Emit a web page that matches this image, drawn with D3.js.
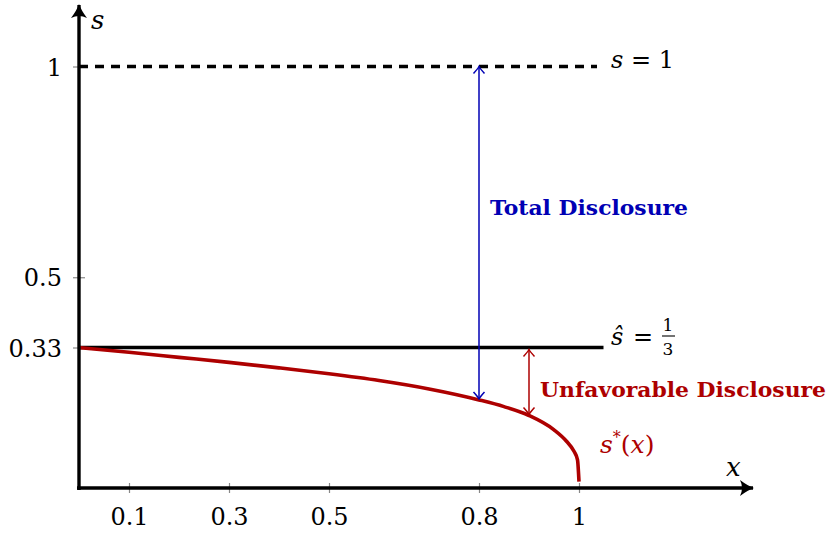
<!DOCTYPE html>
<html>
<head>
<meta charset="utf-8">
<script src="https://cdn.jsdelivr.net/npm/d3@7"></script>
<style>
  body { margin: 0; background: #fff; }
  text { font-family: "DejaVu Serif", serif; }
</style>
</head>
<body>
<div id="chart-area"></div>
<script>
// data
var curveX = [0, 0.1, 0.2, 0.3, 0.4, 0.5, 0.6, 0.7, 0.8, 0.85, 0.9, 0.95, 0.975, 0.99, 0.997, 1];
var curveS = [0.333, 0.322, 0.310, 0.298, 0.285, 0.271, 0.255, 0.235, 0.209, 0.193, 0.172, 0.138, 0.111, 0.087, 0.067, 0.015];

var xTicks = [0.1, 0.3, 0.5, 0.8, 1];
var xTickLabels = ["0.1", "0.3", "0.5", "0.8", "1"];
var yTicks = [1 / 3, 0.5, 1];
var yTickLabels = ["0.33", "0.5", "1"];

var sHat = 1 / 3;
var sTop = 1;
var totalAt = 0.8;
var unfavAt = 0.9;

var width = 829;
var height = 533;

var blue = "#0000b4";
var red = "#ad0000";

var svg = d3.select("#chart-area").append("svg")
.attr("width", width)
.attr("height", height)

var x = d3.scaleLinear()
.domain([0, 1])
.range([79, 579])

var y = d3.scaleLinear()
.domain([0, 1])
.range([488, 66.5])

var defs = svg.append("defs")

// open V heads for the annotation arrows
;[["vb", blue], ["vr", red]].forEach(function(m) {
	defs.append("marker")
	.attr("id", m[0])
	.attr("viewBox", "-10 -8 12 16")
	.attr("refX", 0)
	.attr("refY", 0)
	.attr("markerWidth", 12)
	.attr("markerHeight", 16)
	.attr("markerUnits", "userSpaceOnUse")
	.attr("orient", "auto-start-reverse")
	.append("path")
	.attr("d", "M-7,-5.5 Q-2,-1 0,0 Q-2,1 -7,5.5")
	.attr("fill", "none")
	.attr("stroke", m[1])
	.attr("stroke-width", 1.5)
})

// filled head for the axes
defs.append("marker")
.attr("id", "ax")
.attr("viewBox", "-14 -9 16 18")
.attr("refX", 0)
.attr("refY", 0)
.attr("markerWidth", 16)
.attr("markerHeight", 18)
.attr("markerUnits", "userSpaceOnUse")
.attr("orient", "auto")
.append("path")
.attr("d", "M-13,-8 Q-5,-2 1,0 Q-5,2 -13,8 Q-9,0 -13,-8 Z")
.attr("fill", "black")

// ticks
var xAxis = svg.append("g")
.attr("transform", "translate(0," + y(0) + ")")
.call(d3.axisBottom(x).tickValues(xTicks).tickFormat((d, i) => xTickLabels[i]))

var yAxis = svg.append("g")
.attr("transform", "translate(" + x(0) + ",0)")
.call(d3.axisLeft(y).tickValues(yTicks).tickFormat((d, i) => yTickLabels[i]))

xAxis.select(".domain").remove()
yAxis.select(".domain").remove()

xAxis.selectAll(".tick line")
.attr("y1", -5).attr("y2", 5)
.attr("stroke", "#888").attr("stroke-width", 1.2)
xAxis.selectAll(".tick text")
.attr("y", 37).attr("dy", 0)
.attr("font-size", "24px")
.attr("font-family", "DejaVu Serif")
.attr("fill", "black")

yAxis.selectAll(".tick text")
yAxis.selectAll(".tick line")
.attr("x1", -6).attr("x2", 6)
.attr("stroke", "#888").attr("stroke-width", 1.2)
yAxis.selectAll(".tick text")
.attr("x", -17).attr("dy", "0.36em")
.attr("font-size", "24px")
.attr("font-family", "DejaVu Serif")
.attr("fill", "black")

// reference lines
svg.append("line")
.attr("x1", x(0)).attr("x2", x(1.036))
.attr("y1", y(sTop)).attr("y2", y(sTop))
.attr("stroke", "black")
.attr("stroke-width", 3.4)
.attr("stroke-dasharray", "9,7")

svg.append("line")
.attr("x1", x(0)).attr("x2", x(1.049))
.attr("y1", y(sHat)).attr("y2", y(sHat))
.attr("stroke", "black")
.attr("stroke-width", 3.4)

// s*(x)
var curveData = curveX.map((d, i) => ({x: d, s: curveS[i]}))
var line = d3.line()
.x(d => x(d.x))
.y(d => y(d.s))
.curve(d3.curveMonotoneX)

svg.append("path")
.datum(curveData)
.attr("d", line)
.attr("fill", "none")
.attr("stroke", red)
.attr("stroke-width", 3.6)

// annotation arrows
var sAt = function(v) {
	var i = curveX.indexOf(v)
	return curveS[i]
}

svg.append("line")
.attr("x1", x(totalAt)).attr("x2", x(totalAt))
.attr("y1", y(sTop)).attr("y2", y(sAt(totalAt)) - 1)
.attr("stroke", blue)
.attr("stroke-width", 1.5)
.attr("marker-start", "url(#vb)")
.attr("marker-end", "url(#vb)")

svg.append("line")
.attr("x1", x(unfavAt)).attr("x2", x(unfavAt))
.attr("y1", y(sHat) + 2).attr("y2", y(sAt(unfavAt)) - 1)
.attr("stroke", red)
.attr("stroke-width", 1.5)
.attr("marker-start", "url(#vr)")
.attr("marker-end", "url(#vr)")

// axes
svg.append("line")
.attr("x1", x(0)).attr("x2", x(0))
.attr("y1", y(0) + 2).attr("y2", 5)
.attr("stroke", "black")
.attr("stroke-width", 3.4)
.attr("marker-end", "url(#ax)")

svg.append("line")
.attr("x1", x(0) - 2).attr("x2", 753)
.attr("y1", y(0)).attr("y2", y(0))
.attr("stroke", "black")
.attr("stroke-width", 3.4)
.attr("marker-end", "url(#ax)")

// axis names
svg.append("text")
.attr("x", 91).attr("y", 29)
.attr("font-size", "26px")
.attr("font-style", "italic")
.text("s")

svg.append("text")
.attr("x", 726).attr("y", 476)
.attr("font-size", "26px")
.attr("font-style", "italic")
.text("x")

// line labels
var topLabel = svg.append("text")
.attr("x", 611).attr("y", y(sTop) + 1)
.attr("font-size", "24px")
topLabel.append("tspan").attr("font-style", "italic").text("s")
topLabel.append("tspan").text(" = 1")

svg.append("text")
.attr("x", 611).attr("y", 345)
.attr("font-size", "24px")
.text("ŝ")
.attr("font-style", "italic")

svg.append("text")
.attr("x", 633).attr("y", 345)
.attr("font-size", "24px")
.text("=")

svg.append("text")
.attr("x", 668).attr("y", 331)
.attr("font-size", "17px")
.attr("text-anchor", "middle")
.text("1")
svg.append("line")
.attr("x1", 662).attr("x2", 675)
.attr("y1", 336).attr("y2", 336)
.attr("stroke", "black").attr("stroke-width", 1.1)
svg.append("text")
.attr("x", 668).attr("y", 355)
.attr("font-size", "17px")
.attr("text-anchor", "middle")
.text("3")

var curveLabel = svg.append("text")
.attr("x", 600).attr("y", 453)
.attr("font-size", "25px")
.attr("fill", red)
curveLabel.append("tspan").attr("font-style", "italic").text("s")
curveLabel.append("tspan").attr("font-size", "16px").attr("dy", -10).text("*")
curveLabel.append("tspan").attr("dy", 10).text("(")
curveLabel.append("tspan").attr("font-style", "italic").text("x")
curveLabel.append("tspan").text(")")

svg.append("text")
.attr("x", 490).attr("y", 215)
.attr("font-size", "21px")
.attr("font-weight", "bold")
.attr("fill", blue)
.attr("textLength", 198)
.attr("lengthAdjust", "spacingAndGlyphs")
.text("Total Disclosure")

svg.append("text")
.attr("x", 540).attr("y", 397)
.attr("font-size", "21px")
.attr("font-weight", "bold")
.attr("fill", red)
.attr("textLength", 286)
.attr("lengthAdjust", "spacingAndGlyphs")
.text("Unfavorable Disclosure")
</script>
</body>
</html>
